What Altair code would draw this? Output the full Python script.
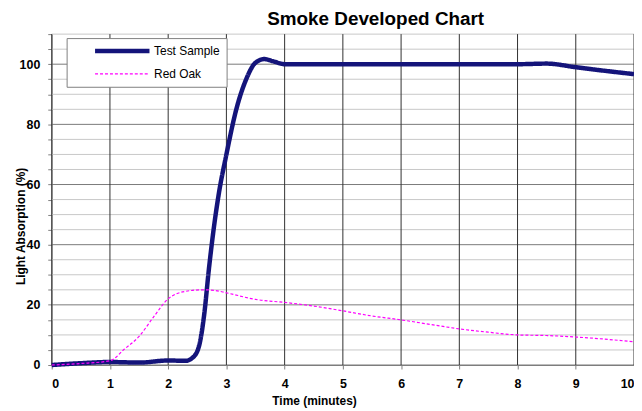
import altair as alt
import pandas as pd

# ---- data ----
test_t = [0, 0.5, 1, 1.5, 2, 2.3, 2.45, 2.55, 2.62, 2.7, 2.78, 2.87, 3.0, 3.17, 3.34, 3.5, 3.65, 3.8, 4.0, 5, 6, 7, 8, 8.5, 9, 9.5, 10]
test_y = [0, 0.6, 1, 0.8, 1.5, 1.4, 3, 8, 17, 32, 45, 57, 70, 85, 95, 100.5, 101.7, 101, 100, 100, 100, 100, 100, 100.2, 99, 97.8, 96.7]

oak_t = [0, 0.5, 1, 1.25, 1.5, 1.75, 2, 2.3, 2.6, 2.8, 3, 3.5, 4, 4.5, 5, 5.5, 6, 6.5, 7, 7.5, 8, 8.5, 9, 9.5, 10]
oak_y = [0, 0.5, 1.4, 5.3, 9.5, 16, 22, 24.5, 25, 24.8, 24, 21.8, 20.8, 19.6, 18, 16.3, 15, 13.5, 12, 10.9, 10, 9.8, 9.3, 8.6, 7.7]

series = ["Test Sample", "Red Oak"]
x_major = list(range(0, 11))
x_ticks = [i / 2 for i in range(0, 21)]
y_ticks = list(range(0, 111, 5))
y_major = [0, 20, 40, 60, 80, 100]
y_minor = [v for v in y_ticks if v not in y_major]

FONT = "Liberation Sans"

df = pd.DataFrame(
    [{"t": t, "v": v, "s": "Test Sample"} for t, v in zip(test_t, test_y)]
    + [{"t": t, "v": v, "s": "Red Oak"} for t, v in zip(oak_t, oak_y)]
)

xs = alt.Scale(domain=[0, 10], nice=False)
ys = alt.Scale(domain=[0, 110], nice=False)

x_axis = alt.Axis(
    values=x_ticks,
    format="d",
    labelExpr="datum.value % 1 == 0 ? datum.label : ''",
    grid=False,
    tickSize=4,
    tickColor="#808080",
    domainColor="#808080",
    labelFont=FONT,
    labelFontSize=12.5,
    labelFontWeight="bold",
    labelColor="#000",
    labelPadding=9,
    titleFont=FONT,
    titleFontSize=12,
    titleFontWeight="bold",
    titleColor="#000",
    titlePadding=5,
    titleX=264,
)
y_axis = alt.Axis(
    values=y_ticks,
    labelExpr="(datum.value % 20 == 0 && datum.value <= 100) ? datum.label : ''",
    grid=False,
    tickSize=4,
    tickColor="#808080",
    domainColor="#808080",
    labelFont=FONT,
    labelFontSize=12.5,
    labelFontWeight="bold",
    labelColor="#000",
    labelPadding=8,
    titleFont=FONT,
    titleFontSize=12,
    titleFontWeight="bold",
    titleColor="#000",
    titleX=-31,
    titleY=193,
    titleAlign="center",
    titleBaseline="middle",
)
X_TITLE = "Time (minutes)"
Y_TITLE = "Light Absorption (%)"

minor_h = alt.Chart(pd.DataFrame({"v": y_minor})).mark_rule(color="#c8c8c8", strokeWidth=1).encode(
    y=alt.Y("v:Q", scale=ys, axis=y_axis, title=Y_TITLE)
)
major_h = alt.Chart(pd.DataFrame({"v": y_major})).mark_rule(color="#7a7a7a", strokeWidth=1).encode(
    y=alt.Y("v:Q", scale=ys, axis=y_axis, title=Y_TITLE)
)
vert = alt.Chart(pd.DataFrame({"t": x_major})).mark_rule(color="#303030", strokeWidth=1).encode(
    x=alt.X("t:Q", scale=xs, axis=x_axis, title=X_TITLE)
)

lines = alt.Chart(df).mark_line(interpolate="monotone").encode(
    x=alt.X("t:Q", scale=xs, axis=x_axis, title=X_TITLE),
    y=alt.Y("v:Q", scale=ys, axis=y_axis, title=Y_TITLE),
    color=alt.Color(
        "s:N",
        scale=alt.Scale(domain=series, range=["#14147a", "#ff00ff"]),
        sort=series,
        legend=alt.Legend(
            title=None,
            orient="none",
            legendX=15,
            legendY=4,
            direction="vertical",
            symbolType="stroke",
            symbolSize=3000,
            clipHeight=14,
            symbolOffset=20,
            labelFont=FONT,
            labelFontSize=12,
            labelColor="#000",
            fillColor="white",
            strokeColor="#808080",
            padding=6,
            rowPadding=9,
            labelOffset=2,
            offset=0,
        ),
    ),
    strokeWidth=alt.StrokeWidth(
        "s:N", scale=alt.Scale(domain=series, range=[4.5, 1.2]), sort=series, legend=None
    ),
    strokeDash=alt.StrokeDash(
        "s:N", scale=alt.Scale(domain=series, range=[[1, 0], [3, 2]]), sort=series, legend=None
    ),
    order=alt.Order("t:Q"),
)

chart = (
    alt.layer(minor_h, major_h, vert, lines)
    .properties(
        width=586,
        height=333,
        title=alt.Title(
            "Smoke Developed Chart",
            font=FONT,
            fontSize=19,
            fontWeight="bold",
            color="#000",
            anchor="middle",
            dx=33,
            offset=5,
        ),
        autosize=alt.AutoSizeParams(type="none"),
        padding={"left": 44, "top": 25, "right": 0, "bottom": 45},
        background="white",
    )
    .configure_view(stroke=None)
)

chart.save("out.html", embed_options={"renderer": "svg", "actions": False})
